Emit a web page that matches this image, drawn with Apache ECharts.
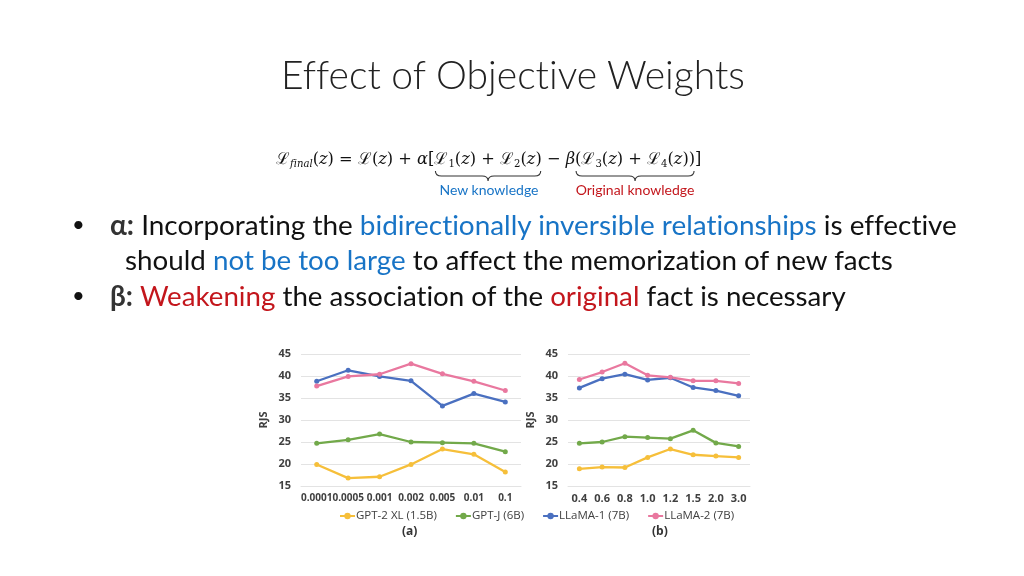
<!DOCTYPE html>
<html>
<head>
<meta charset="utf-8">
<script src="https://cdn.jsdelivr.net/npm/echarts@6/dist/echarts.min.js"></script>
<style>
  html,body{margin:0;padding:0;background:#fff;}
  #wrap{position:relative;width:1024px;height:576px;overflow:hidden;background:#fff;}
  #chart{position:absolute;left:0;top:0;width:1024px;height:576px;}
  .t{position:absolute;white-space:nowrap;font-family:Lato,"Open Sans",sans-serif;color:#111;
     font-variant-ligatures:none;font-feature-settings:"liga" 0,"clig" 0,"dlig" 0;}
  .blue{color:#1874c6;}
  .red{color:#c3161c;}
  .m{font-family:"DejaVu Serif","Liberation Serif",serif;}
  .m i{font-style:italic;}
  .m sub{font-size:0.62em;vertical-align:-0.3em;line-height:0;}
  svg{position:absolute;left:0;top:0;}
</style>
</head>
<body>
<div id="wrap">
  <div id="chart"></div>
  <div class="t" id="title" style="font-weight:300;color:#222;">Effect of Objective Weights</div>
  <div class="t m" id="formula">ℒ<sub><i>final</i></sub>(<i>z</i>) = ℒ(<i>z</i>) + <i>α</i>[<span id="g1">ℒ<sub>1</sub>(<i>z</i>) + ℒ<sub>2</sub>(<i>z</i>)</span> − <i>β</i><span id="g2">(ℒ<sub>3</sub>(<i>z</i>) + ℒ<sub>4</sub>(<i>z</i>))</span>]</div>
  <div class="t blue" id="lblNew">New knowledge</div>
  <div class="t red" id="lblOrig">Original knowledge</div>
  <div class="t" id="b1">•</div>
  <div class="t" id="b3">•</div>
  <div class="t" id="l1"><b style="color:#333">α:</b> Incorporating the <span class="blue">bidirectionally inversible relationships</span> is effective</div>
  <div class="t" id="l2">should <span class="blue">not be too large</span> to affect the memorization of new facts</div>
  <div class="t" id="l3"><b style="color:#333">β:</b> <span class="red">Weakening</span> the association of the <span class="red">original</span> fact is necessary</div>
  <svg id="braces" width="1024" height="576"></svg>
</div>
<script>
// ---------------- DATA ----------------
const seriesNames = ['GPT-2 XL (1.5B)', 'GPT-J (6B)', 'LLaMA-1 (7B)', 'LLaMA-2 (7B)'];
const alphaCats = ['0.0001', '0.0005', '0.001', '0.002', '0.005', '0.01', '0.1'];
const betaCats = ['0.4', '0.6', '0.8', '1.0', '1.2', '1.5', '2.0', '3.0'];
// (a) varying alpha
const aGpt2 = [19.9, 16.8, 17.1, 19.9, 23.4, 22.2, 18.2];
const aGptj = [24.7, 25.5, 26.8, 25.0, 24.85, 24.7, 22.8];
const aLlama1 = [38.8, 41.3, 39.9, 38.9, 33.2, 36.0, 34.1];
const aLlama2 = [37.7, 39.9, 40.4, 42.8, 40.5, 38.8, 36.7];
// (b) varying beta
const bGpt2 = [18.9, 19.3, 19.2, 21.5, 23.4, 22.1, 21.8, 21.5];
const bGptj = [24.7, 25.0, 26.2, 26.0, 25.75, 27.65, 24.8, 24.0];
const bLlama1 = [37.3, 39.4, 40.4, 39.1, 39.6, 37.4, 36.7, 35.5];
const bLlama2 = [39.2, 40.9, 42.9, 40.15, 39.7, 38.9, 38.9, 38.3];
const yTicks = {min: 15, max: 45, step: 5};
const yName = 'RJS';
const subLabels = ['(a)', '(b)'];

// ---------------- TEXT LAYOUT ----------------
function fit(id, left, right, cy, baseSize, center) {
  const el = document.getElementById(id);
  el.style.fontSize = baseSize + 'px';
  el.style.lineHeight = '1';
  let w = el.getBoundingClientRect().width;
  const target = right - left;
  const fs = baseSize * target / w;
  el.style.fontSize = fs + 'px';
  el.style.lineHeight = '1';
  const r = el.getBoundingClientRect();
  el.style.left = (center ? (left + right) / 2 - r.width / 2 : left) + 'px';
  el.style.top = (cy - r.height / 2) + 'px';
}
function place(id, x, cy, size, center) {
  const el = document.getElementById(id);
  el.style.fontSize = size + 'px';
  el.style.lineHeight = '1';
  const r = el.getBoundingClientRect();
  el.style.left = (center ? x - r.width / 2 : x) + 'px';
  el.style.top = (cy - r.height / 2) + 'px';
}
fit('title', 281, 745, 74, 36, true);
fit('formula', 276, 698, 159, 17, false);
fit('l1', 110, 957, 225, 24, false);
fit('l2', 125, 893, 260, 24, false);
fit('l3', 110, 846, 296, 24, false);
place('b1', 72, 224, 22, false);
place('b3', 72, 295, 22, false);
place('lblNew', 489, 190, 14, true);
place('lblOrig', 635, 190, 14, true);

function brace(x1, x2, y) {
  const m = (x1 + x2) / 2, h = 5;
  return `M${x1} ${y} Q${x1} ${y+h} ${x1+6} ${y+h} L${m-6} ${y+h} Q${m} ${y+h} ${m} ${y+2*h} Q${m} ${y+h} ${m+6} ${y+h} L${x2-6} ${y+h} Q${x2} ${y+h} ${x2} ${y}`;
}
const svg = document.getElementById('braces');
['g1', 'g2'].forEach(id => {
  const r = document.getElementById(id).getBoundingClientRect();
  const p = document.createElementNS('http://www.w3.org/2000/svg', 'path');
  p.setAttribute('d', brace(r.left + 1, r.right - 1, 171));
  p.setAttribute('fill', 'none');
  p.setAttribute('stroke', '#333');
  p.setAttribute('stroke-width', '1.1');
  svg.appendChild(p);
});

// ---------------- CHART ----------------
const colors = ['#f6bf3a', '#72a94a', '#4a70c0', '#e9789f'];
const chart = echarts.init(document.getElementById('chart'), null, {renderer: 'canvas'});
const axisLabelStyle = {color: '#404040', fontWeight: 'bold', fontFamily: '"Open Sans",Lato,sans-serif'};
function yAxis(gi) {
  return {
    gridIndex: gi, type: 'value', min: yTicks.min, max: yTicks.max, interval: yTicks.step,
    name: yName, nameLocation: 'middle', nameGap: 32, nameRotate: 90,
    nameTextStyle: Object.assign({fontSize: 11}, axisLabelStyle),
    axisLine: {show: false}, axisTick: {show: false},
    axisLabel: Object.assign({fontSize: 11, margin: 10}, axisLabelStyle),
    splitLine: {lineStyle: {color: '#e3e3e3', width: 1}}
  };
}
function xAxis(gi, cats, fs) {
  return {
    gridIndex: gi, type: 'category', data: cats, boundaryGap: true,
    axisLine: {show: true, lineStyle: {color: '#e3e3e3'}}, axisTick: {show: false},
    axisLabel: Object.assign({fontSize: fs, margin: 7, interval: 0}, axisLabelStyle)
  };
}
function mk(name, data, gi, ci) {
  return {
    name: name, type: 'line', xAxisIndex: gi, yAxisIndex: gi, data: data,
    symbol: 'circle', symbolSize: 5, showSymbol: true,
    lineStyle: {width: 2.3, color: colors[ci]}, itemStyle: {color: colors[ci]},
    emphasis: {disabled: true}, animation: false
  };
}
chart.setOption({
  animation: false,
  grid: [
    {left: 301, top: 354, width: 220, height: 132},
    {left: 568, top: 354, width: 182, height: 132}
  ],
  xAxis: [xAxis(0, alphaCats, 10), xAxis(1, betaCats, 11)],
  yAxis: [yAxis(0), yAxis(1)],
  legend: {
    data: seriesNames, left: 334, top: 505, itemWidth: 15, itemHeight: 8, itemGap: 18,
    textStyle: {fontSize: 11.5, color: '#404040', fontFamily: '"Open Sans",Lato,sans-serif', padding: [0,0,0,-4]},
    selectedMode: false
  },
  graphic: [
    {type: 'text', left: 411 - 9, top: 526, style: {text: subLabels[0], font: 'bold 12px "Open Sans",sans-serif', fill: '#333'}},
    {type: 'text', left: 661 - 9, top: 526, style: {text: subLabels[1], font: 'bold 12px "Open Sans",sans-serif', fill: '#333'}}
  ],
  series: [
    mk(seriesNames[0], aGpt2, 0, 0), mk(seriesNames[1], aGptj, 0, 1),
    mk(seriesNames[2], aLlama1, 0, 2), mk(seriesNames[3], aLlama2, 0, 3),
    mk(seriesNames[0], bGpt2, 1, 0), mk(seriesNames[1], bGptj, 1, 1),
    mk(seriesNames[2], bLlama1, 1, 2), mk(seriesNames[3], bLlama2, 1, 3)
  ]
});
</script>
</body>
</html>
